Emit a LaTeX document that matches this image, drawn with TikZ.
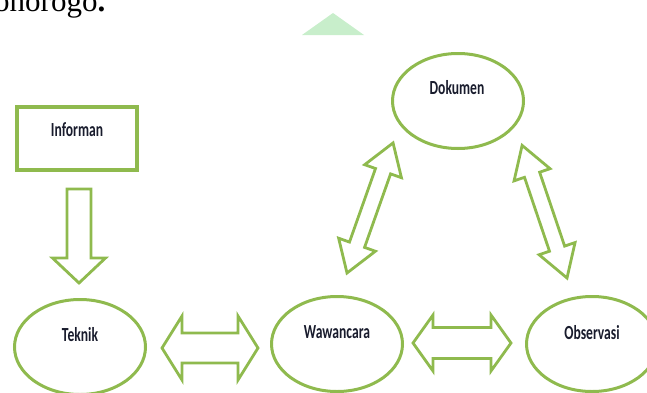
\documentclass[tikz,border=0pt]{standalone}
\usepackage{fontspec}
\setmainfont{Liberation Serif}
\newfontfamily\labfont[FakeStretch=0.68]{Carlito}
\usetikzlibrary{shapes.geometric}
\definecolor{grn}{HTML}{8FBA4E}
\definecolor{mint}{HTML}{C8EECB}
\definecolor{ink}{RGB}{25,28,45}
\tikzset{
  shp/.style={draw=grn, line width=3pt},
  oval/.style={shp, ellipse, minimum width=131pt, minimum height=95pt, inner sep=0pt},
  boxshape/.style={draw=grn, line width=3.6pt, minimum width=120pt, minimum height=63pt, inner sep=0pt},
  lbl/.style={font=\labfont\bfseries\fontsize{20}{20}\selectfont, text=ink, inner sep=0pt},
  blk/.style={draw=grn, line width=2.8pt, line join=miter, fill=white},
  pics/dblarrow/.style n args={4}{code={
    \draw[blk] (0,0) -- (#4,#3) -- (#4,#2) -- ({#1-#4},#2) -- ({#1-#4},#3) -- (#1,0)
      -- ({#1-#4},-#3) -- ({#1-#4},-#2) -- (#4,-#2) -- (#4,-#3) -- cycle;}},
  pics/sglarrow/.style n args={4}{code={
    \draw[blk] (0,#2) -- ({#1-#4},#2) -- ({#1-#4},#3) -- (#1,0)
      -- ({#1-#4},-#3) -- ({#1-#4},-#2) -- (0,-#2) -- cycle;}},
}
\begin{document}
\begin{tikzpicture}[x=1pt,y=1pt]
\useasboundingbox (0,0) rectangle (647,392);
% top residue of the page
\node[anchor=base west, inner sep=0pt, font=\fontsize{31}{31}\selectfont] (toptext) at (-6,380) {onorogo\textbf{.}};
\fill[mint] (302,357) -- (333,379) -- (364,357) -- cycle;

% shapes
\node[boxshape] (inf) at (77,253.5) {};
\node[oval] (dok) at (458,291) {};
\node[oval] (tek) at (80,45) {};
\node[oval] (waw) at (337,48) {};
\node[oval] (obs) at (592,48) {};

% labels
\node[lbl] (infT) at (77,262) {Informan};
\node[lbl] (dokT) at (457,304) {Dokumen};
\node[lbl] (tekT) at (80,57) {Teknik};
\node[lbl] (wawT) at (337,60) {Wawancara};
\node[lbl] (obsT) at (592,59) {Observasi};

% block arrows
\coordinate (a1) at (79,203);
\coordinate (a2) at (162,44);
\coordinate (a3) at (413,49);
\coordinate (a4) at (347,119);
\coordinate (a5) at (567,114);
\pic[rotate=-90] at (a1) {sglarrow={94}{12}{26.5}{25}};
\pic at (a2) {dblarrow={96}{15}{32}{20}};
\pic at (a3) {dblarrow={98}{15.5}{28}{20}};
\pic[rotate=70.5] at (a4) {dblarrow={138}{8}{19.5}{30}};
\pic[rotate=108.7] at (a5) {dblarrow={140}{8}{19}{31}};
\end{tikzpicture}
\end{document}
